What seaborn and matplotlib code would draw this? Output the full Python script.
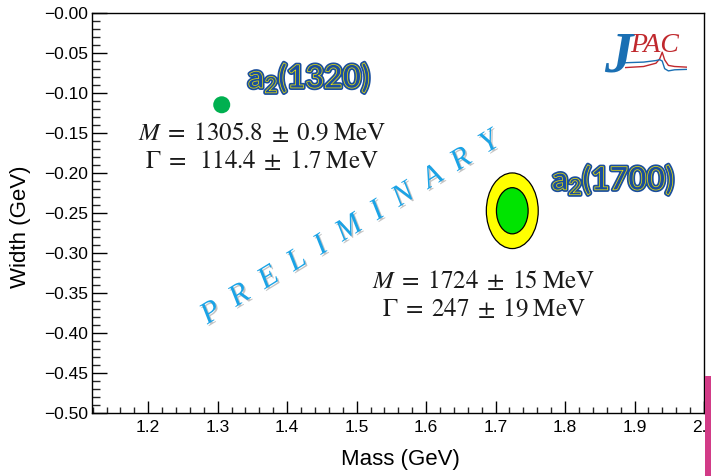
import numpy as np
import pandas as pd
import matplotlib
matplotlib.use("Agg")
import matplotlib.pyplot as plt
import matplotlib.patheffects as pe
from matplotlib.patches import Ellipse, Rectangle
from matplotlib.ticker import MultipleLocator
import seaborn as sns

# Pole positions of the a2 resonances (MeV)
states = ["a2(1320)", "a2(1700)"]
state_labels = ["a$_{2}$(1320)", "a$_{2}$(1700)"]
mass = [1305.8, 1724.0]
mass_err = [0.9, 15.0]
width = [114.4, 247.0]
width_err = [1.7, 19.0]

# Result strings printed next to each pole
result_lines = [
    [r"$M\;=\;1305.8\;\pm\;0.9\;\mathrm{MeV}$", r"$\Gamma\;=\;\;114.4\;\pm\;1.7\;\mathrm{MeV}$"],
    [r"$M\;=\;1724\;\pm\;15\;\mathrm{MeV}$", r"$\Gamma\;=\;247\;\pm\;19\;\mathrm{MeV}$"],
]

# Axis ticks
x_ticks = [1.2, 1.3, 1.4, 1.5, 1.6, 1.7, 1.8, 1.9, 2.0]
x_tick_labels = ["1.2", "1.3", "1.4", "1.5", "1.6", "1.7", "1.8", "1.9", "2.0"]
y_ticks = [0.0, -0.05, -0.10, -0.15, -0.20, -0.25, -0.30, -0.35, -0.40, -0.45, -0.50]
y_tick_labels = ["\u22120.00", "\u22120.05", "\u22120.10", "\u22120.15", "\u22120.20",
                 "\u22120.25", "\u22120.30", "\u22120.35", "\u22120.40", "\u22120.45",
                 "\u22120.50"]

# Confidence contours (in units of sigma) for a 2D Gaussian: 95% and 68%
contour_sigmas = [2.49, 1.52]
contour_colors = ["#ffff00", "#00e400"]

sns.set_theme(style="ticks")
plt.rcParams.update({
    "font.family": ["Liberation Sans", "DejaVu Sans"],
    "mathtext.fontset": "custom",
    "mathtext.rm": "Lato:bold",
    "mathtext.it": "Lato:bold:italic",
    "mathtext.bf": "Lato:bold",
    "axes.edgecolor": "black",
    "axes.linewidth": 1.0,
})

df = pd.DataFrame({
    "state": states,
    "mass_gev": np.array(mass) / 1000.0,
    "pole_im": -np.array(width) / 1000.0,
    "dm": np.array(mass_err) / 1000.0,
    "dg": np.array(width_err) / 1000.0,
})

fig = plt.figure(figsize=(7.11, 4.76), dpi=100)
ax = fig.add_axes([0.1298, 0.1324, 0.8604, 0.8396])

# a2(1700): confidence ellipses
row = df.iloc[1]
for k, col in zip(contour_sigmas, contour_colors):
    ax.add_patch(Ellipse((row.mass_gev, row.pole_im), 2 * k * row.dm, 2 * k * row.dg,
                         facecolor=col, edgecolor="black", linewidth=0.9, zorder=2))

# a2(1320): errors too small to resolve, shown as a dot
sns.scatterplot(data=df.iloc[[0]], x="mass_gev", y="pole_im", s=150, color="#00b050",
                edgecolor="none", legend=False, ax=ax, zorder=3)

ax.set_xlim(1.1195, 2.0)
ax.set_ylim(-0.5, 0.0)
ax.set_xticks(x_ticks, x_tick_labels)
ax.set_yticks(y_ticks, y_tick_labels)
ax.xaxis.set_minor_locator(MultipleLocator(0.02))
ax.yaxis.set_minor_locator(MultipleLocator(0.01))
ax.tick_params(axis="x", which="major", direction="in", length=8.5, width=1.0,
               labelsize=12.5, pad=5, colors="black")
ax.tick_params(axis="x", which="minor", direction="in", length=4, width=1.0)
ax.tick_params(axis="y", which="major", direction="in", length=11, width=1.0,
               labelsize=12.5, pad=3, colors="black")
ax.tick_params(axis="y", which="minor", direction="in", length=5.5, width=1.0)
ax.tick_params(top=False, right=False, which="both")
for s in ax.spines.values():
    s.set_visible(True)
    s.set_color("black")

ax.set_xlabel("Mass (GeV)", fontsize=16, color="black")
ax.set_ylabel("Width (GeV)", fontsize=16, color="black")
ax.xaxis.set_label_coords(0.503, -0.09)
ax.yaxis.set_label_coords(-0.100, 0.465)

# State names: blue letters with a thin yellow outline
name_pos = [(0.2545, 0.813), (0.7515, 0.558)]
for lab, (px, py) in zip(state_labels, name_pos):
    ax.text(px, py, lab, transform=ax.transAxes, ha="left", va="baseline",
            fontsize=23, family="Lato", weight="bold", color="#1a4e9e",
            math_fontfamily="custom",
            path_effects=[pe.Stroke(linewidth=3.0, foreground="#1a4e9e"),
                          pe.Stroke(linewidth=0.5, foreground="#f2e600")],
            zorder=5)

# Fit results
res_pos = [(0.278, 0.6655), (0.640, 0.295)]
for lines, (px, py) in zip(result_lines, res_pos):
    ax.text(px, py, lines[0] + "\n" + lines[1], transform=ax.transAxes,
            ha="center", va="center", multialignment="center", fontsize=18,
            color="#1a1a1a", math_fontfamily="stix", linespacing=1.25, zorder=5)

# Watermark
ax.text(0.421, 0.462, "P  R  E  L  I  M  I  N  A  R  Y", transform=ax.transAxes,
        rotation=31.5, rotation_mode="anchor", ha="center", va="center",
        fontsize=22, family="Liberation Serif", style="italic", color="#1aa3e6",
        path_effects=[pe.withSimplePatchShadow(offset=(1.2, -1.2), shadow_rgbFace="#555555",
                                               alpha=0.35)],
        zorder=4)

# JPAC logo
ax.text(0.836, 0.855, "J", transform=ax.transAxes, ha="left", va="baseline",
        fontsize=41, family="Liberation Serif", style="italic", weight="bold",
        color="#1a6fb3", zorder=5)
ax.text(0.880, 0.903, "PAC", transform=ax.transAxes, ha="left", va="baseline",
        fontsize=20, family="Liberation Serif", style="italic", color="#c0282d", zorder=5)
logo = fig.add_axes([625 / 711, 1 - 72 / 476, 62 / 711, 22 / 476])
logo.set_axis_off()
logo_x = [0.0, 0.3, 0.5, 0.56, 0.6, 0.64, 0.7, 0.8, 1.0]
red_y = [0.2, 0.25, 0.4, 0.6, 0.9, 0.55, 0.3, 0.25, 0.22]
blue_y = [0.42, 0.45, 0.52, 0.56, 0.5, 0.15, 0.05, 0.1, 0.12]
logo.plot(logo_x, red_y, color="#c0282d", lw=1.0)
logo.plot(logo_x, blue_y, color="#1a6fb3", lw=1.0)
logo.set_xlim(0, 1)
logo.set_ylim(0, 1)

# Slide edge strip on the right
fig.patches.append(Rectangle((705 / 711, 0), 6 / 711, 100 / 476, transform=fig.transFigure,
                             facecolor="#d23b87", edgecolor="none", zorder=0))

fig.savefig("out.png", dpi=100)
